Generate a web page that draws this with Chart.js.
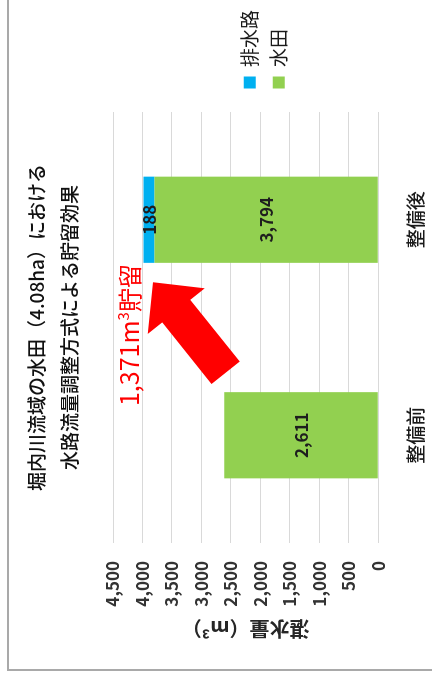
<!DOCTYPE html>
<html lang="ja">
<head>
<meta charset="utf-8">
<script src="https://cdn.jsdelivr.net/npm/chart.js@4.4.1/dist/chart.umd.min.js"></script>
<style>
  html,body{margin:0;padding:0;background:#fff;}
  body{width:432px;height:681px;position:relative;overflow:hidden;}
  #frame{position:absolute;left:7px;top:-4px;width:440px;height:675px;box-sizing:border-box;
         border-left:2px solid #a9a9a9;border-bottom:2px solid #a9a9a9;}
  /* the chart is drawn landscape, then turned a quarter to the left */
  #wrap{position:absolute;left:0;top:0;width:681px;height:432px;
        transform-origin:0 0;transform:translate(0,681px) rotate(-90deg);}
</style>
</head>
<body>
<div id="frame"></div>
<div id="wrap"><canvas id="chart" width="681" height="432"></canvas></div>
<script>
const CATEGORIES = ["整備前", "整備後"];
const PADDY   = [2611, 3794];   // 水田
const CHANNEL = [0, 188];       // 排水路
const Y_MAX  = 4500;
const Y_STEP = 500;
const TITLE_LINES = ["堀内川流域の水田（4.08ha）における", "水路流量調整方式による貯留効果"];
const Y_TITLE = "湛水量（m³）";

const JP = '"Noto Sans CJK JP", sans-serif';

// gain in storage after the works = total after - total before
const stored = (PADDY[1] + CHANNEL[1]) - (PADDY[0] + CHANNEL[0]);

const barLabels = {
  id: "barLabels",
  afterDatasetsDraw(chart){
    const ctx = chart.ctx;
    ctx.save();
    ctx.font = "bold 17px " + JP;
    ctx.fillStyle = "#1e1e1e";
    ctx.textAlign = "center";
    ctx.textBaseline = "middle";
    chart.data.datasets.forEach((ds, i) => {
      chart.getDatasetMeta(i).data.forEach((bar, j) => {
        const v = ds.data[j];
        if (!v) return;
        const p = bar.getCenterPoint();
        ctx.fillText(v.toLocaleString("en-US"), p.x, p.y);
      });
    });
    ctx.restore();
  }
};

// red arrow + "1,371m³貯留", placed in data space
const arrowNote = {
  id: "arrowNote",
  afterDatasetsDraw(chart){
    const {ctx, scales:{x, y}} = chart;
    const x0 = x.getPixelForValue(0.29), y0 = y.getPixelForValue(2590);
    const x1 = x.getPixelForValue(0.71), y1 = y.getPixelForValue(3820);
    const len = Math.hypot(x1 - x0, y1 - y0);
    const ang = Math.atan2(y1 - y0, x1 - x0);
    const shaft = 18, head = 36.5, headLen = 37;

    ctx.save();
    ctx.translate(x0, y0);
    ctx.rotate(ang);
    ctx.beginPath();
    ctx.moveTo(0, -shaft);
    ctx.lineTo(len - headLen, -shaft);
    ctx.lineTo(len - headLen, -head);
    ctx.lineTo(len, 0);
    ctx.lineTo(len - headLen, head);
    ctx.lineTo(len - headLen, shaft);
    ctx.lineTo(0, shaft);
    ctx.closePath();
    ctx.fillStyle = "#ff0000";
    ctx.fill();
    ctx.restore();

    const cx = x.getPixelForValue(0.465), cy = y.getPixelForValue(4216);
    const parts = [
      {t: stored.toLocaleString("en-US") + "m", f: "25px " + JP, dy: 0},
      {t: "3", f: "15px " + JP, dy: -10},
      {t: "貯留", f: "24px " + JP, dy: 0}
    ];
    ctx.save();
    ctx.fillStyle = "#ff0000";
    ctx.textBaseline = "alphabetic";
    ctx.textAlign = "left";
    let total = 0;
    parts.forEach(p => { ctx.font = p.f; p.w = ctx.measureText(p.t).width; total += p.w; });
    let px = cx - total / 2;
    const base = cy + 9;
    parts.forEach(p => {
      ctx.font = p.f;
      ctx.fillText(p.t, px, base + p.dy);
      px += p.w;
    });
    ctx.restore();
  }
};

const chart = new Chart(document.getElementById("chart").getContext("2d"), {
  type: "bar",
  data: {
    labels: CATEGORIES,
    datasets: [
      {label: "水田", data: PADDY, backgroundColor: "#92d050"},
      {label: "排水路", data: CHANNEL, backgroundColor: "#00b0f0"}
    ]
  },
  options: {
    responsive: false,
    animation: false,
    devicePixelRatio: 1,
    layout: {padding: 0},
    datasets: {bar: {barPercentage: 0.4, categoryPercentage: 1, borderWidth: 0}},
    plugins: {
      title: {
        display: true,
        text: TITLE_LINES,
        fullSize: false,
        color: "#111111",
        font: {family: JP, size: 19, weight: 500, lineHeight: "33px"},
        padding: {top: 20, bottom: 27}
      },
      legend: {
        position: "right",
        align: "center",
        fullSize: false,
        reverse: true,
        title: {display: true, text: " ", font: {size: 12}, padding: {top: 11.4, bottom: 11.4}},
        labels: {
          boxWidth: 12,
          boxHeight: 12,
          padding: 10,
          color: "#1a1a1a",
          font: {family: JP, size: 19}
        }
      },
      tooltip: {enabled: false}
    },
    scales: {
      x: {
        stacked: true,
        grid: {display: false},
        border: {display: false},
        ticks: {color: "#1a1a1a", padding: 18, font: {family: JP, size: 19, weight: 500}},
        afterFit(s){ s.height = 53.7; }
      },
      y: {
        stacked: true,
        min: 0,
        max: Y_MAX,
        grid: {color: "#d9d9d9", drawTicks: false},
        border: {display: false},
        ticks: {
          stepSize: Y_STEP,
          padding: 18,
          color: "#333333",
          font: {family: JP, size: 17, weight: "bold"},
          callback: v => v.toLocaleString("en-US")
        },
        title: {
          display: true,
          text: Y_TITLE,
          color: "#262626",
          font: {family: JP, size: 20, weight: "bold"},
          padding: {top: 40, bottom: 0}
        },
        afterFit(s){ s.width = 138; }
      },
      gap: {
        position: "right",
        display: true,
        grid: {display: false},
        border: {display: false},
        ticks: {display: false},
        afterFit(s){ s.width = 13.5; }
      }
    }
  },
  plugins: [barLabels, arrowNote]
});
</script>
</body>
</html>
